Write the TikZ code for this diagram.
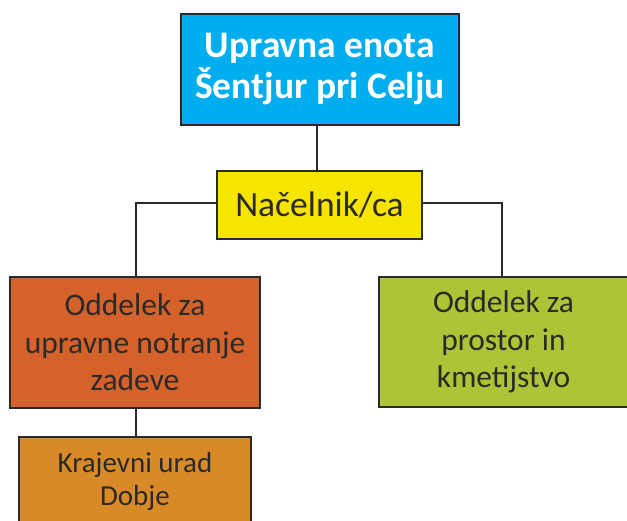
\documentclass[tikz,border=0pt]{standalone}
\usepackage{fontspec}
\setmainfont{Carlito}
\definecolor{cblue}{HTML}{00AEEF}
\definecolor{cyellow}{HTML}{F7E500}
\definecolor{corange}{HTML}{D4622A}
\definecolor{cgreen}{HTML}{AFC336}
\definecolor{cbrown}{HTML}{D98A28}
\definecolor{cline}{HTML}{2B2A29}
\tikzset{
  box/.style={draw=cline, line width=1.6pt, rectangle, inner sep=0pt, align=center, text=cline},
  conn/.style={draw=cline, line width=1.8pt},
}
\begin{document}
\begin{tikzpicture}[x=1pt,y=1pt]
\useasboundingbox (0,0) rectangle (627,520);
\clip (0,0) rectangle (627,520);
\node[box, fill=cblue, text=white, font=\fontsize{37.5}{41}\selectfont\bfseries,
  minimum width=278pt, minimum height=111pt] (top) at (320,450.5) {Upravna enota\\Šentjur pri Celju};
\node[box, fill=cyellow, font=\fontsize{35.5}{40}\selectfont,
  minimum width=205pt, minimum height=68pt] (nac) at (319.5,315) {Načelnik/ca};
\node[box, fill=corange, font=\fontsize{31.5}{37.5}\selectfont,
  minimum width=250pt, minimum height=131pt] (odd1) at (135,177.5) {Oddelek za\\upravne notranje\\zadeve};
\node[box, fill=cgreen, font=\fontsize{31.5}{37.5}\selectfont,
  minimum width=249pt, minimum height=130pt] (odd2) at (503.5,178) {Oddelek za\\prostor in\\kmetijstvo};
\node[box, fill=cbrown, font=\fontsize{29}{33}\selectfont,
  minimum width=232pt, minimum height=89pt] (kru) at (135,38.5) {Krajevni urad\\Dobje};
\coordinate (gtop) at (502,243);
\coordinate (otop) at (136,243);
\draw[conn] (top.south -| 317,0) -- (nac.north -| 317,0);
\draw[conn] (nac.west |- 0,317) -| (otop);
\draw[conn] (nac.east |- 0,317) -| (gtop);
\draw[conn] (odd1.south -| 136,0) -- (kru.north -| 136,0);
\end{tikzpicture}
\end{document}
